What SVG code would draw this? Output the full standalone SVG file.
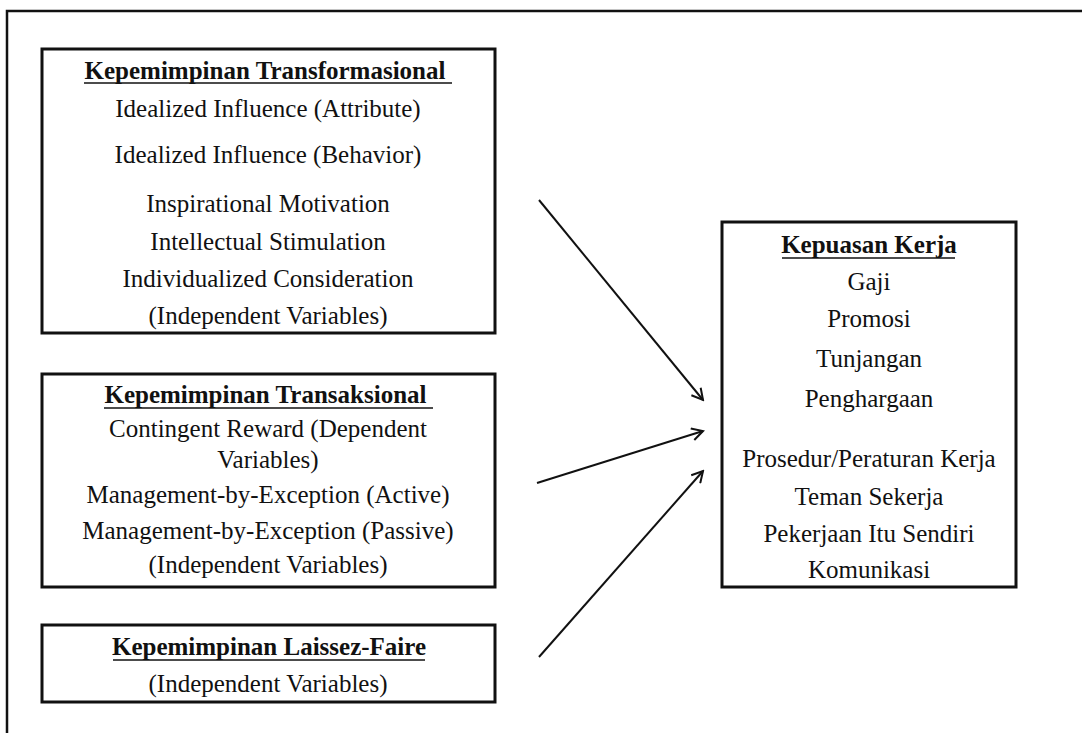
<svg xmlns="http://www.w3.org/2000/svg" width="1082" height="733" viewBox="0 0 1082 733">
<style>
text{font-family:"Liberation Serif","Times New Roman",serif;font-size:25px;fill:#111;text-anchor:middle}
.t{font-weight:bold}
.box{fill:none;stroke:#111;stroke-width:3}
.ul{stroke:#111;stroke-width:1.6}
.conn{stroke:#111;stroke-width:2;fill:none;marker-end:url(#ah)}
</style>
<defs>
<marker id="ah" markerWidth="14" markerHeight="14" refX="12" refY="7" orient="auto" markerUnits="userSpaceOnUse">
<path d="M1,1 L12,7 L1,13" fill="none" stroke="#111" stroke-width="2"/>
</marker>
</defs>
<rect width="1082" height="733" fill="#fff"/>
<path d="M7,733 V11 H1082" fill="none" stroke="#111" stroke-width="2.5"/>
<g id="transformasional">
<rect class="box" x="42" y="49" width="453" height="284"/>
<text class="t" x="265" y="79">Kepemimpinan Transformasional</text>
<line class="ul" x1="84" y1="83" x2="452" y2="83"/>
<text x="268" y="117">Idealized Influence (Attribute)</text>
<text x="268" y="163">Idealized Influence (Behavior)</text>
<text x="268" y="212">Inspirational Motivation</text>
<text x="268" y="250">Intellectual Stimulation</text>
<text x="268" y="287">Individualized Consideration</text>
<text x="268" y="324">(Independent Variables)</text>
</g>
<g id="transaksional">
<rect class="box" x="42" y="374" width="453" height="213"/>
<text class="t" x="265.5" y="403">Kepemimpinan Transaksional</text>
<line class="ul" x1="104" y1="408" x2="433" y2="408"/>
<text x="268" y="437">Contingent Reward (Dependent</text>
<text x="268" y="468">Variables)</text>
<text x="268" y="503">Management-by-Exception (Active)</text>
<text x="268" y="539">Management-by-Exception (Passive)</text>
<text x="268" y="573">(Independent Variables)</text>
</g>
<g id="laissezfaire">
<rect class="box" x="42" y="625" width="453" height="77"/>
<text class="t" x="269" y="655">Kepemimpinan Laissez-Faire</text>
<line class="ul" x1="113" y1="660" x2="425" y2="660"/>
<text x="268" y="692">(Independent Variables)</text>
</g>
<g id="kepuasan">
<rect class="box" x="722" y="222" width="294" height="365"/>
<text class="t" x="869" y="253">Kepuasan Kerja</text>
<line class="ul" x1="782" y1="258" x2="955" y2="258"/>
<text x="869" y="290">Gaji</text>
<text x="869" y="327">Promosi</text>
<text x="869" y="367">Tunjangan</text>
<text x="869" y="407">Penghargaan</text>
<text x="869" y="467">Prosedur/Peraturan Kerja</text>
<text x="869" y="505">Teman Sekerja</text>
<text x="869" y="542">Pekerjaan Itu Sendiri</text>
<text x="869" y="578">Komunikasi</text>
</g>
<g id="connectors">
<line class="conn" x1="539" y1="200" x2="703" y2="400"/>
<line class="conn" x1="537" y1="483" x2="703" y2="431"/>
<line class="conn" x1="539" y1="657" x2="703" y2="471"/>
</g>
</svg>
